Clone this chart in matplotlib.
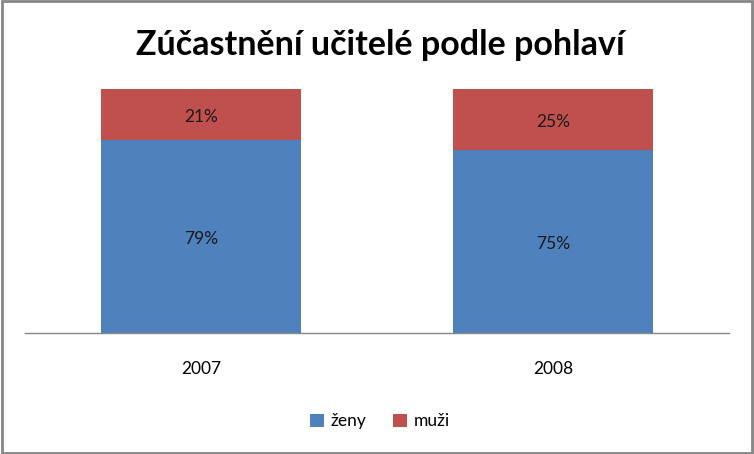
import matplotlib.pyplot as plt
import numpy as np

plt.rcParams['font.family'] = ['Lato', 'DejaVu Sans']

years = ['2007', '2008']
zeny = [0.79, 0.75]
muzi = [0.21, 0.25]
series_names = ['ženy', 'muži']
colors = ['#4F81BD', '#C0504D']

fig = plt.figure(figsize=(7.54, 4.54), dpi=100)
ax = fig.add_axes([25 / 754, (454 - 333) / 454, 704 / 754, 244 / 454])

x = np.arange(len(years))
b1 = ax.bar(x, zeny, width=0.57, color=colors[0], label=series_names[0])
b2 = ax.bar(x, muzi, width=0.57, bottom=zeny, color=colors[1], label=series_names[1])

for bars, vals, bottoms in [(b1, zeny, [0, 0]), (b2, muzi, zeny)]:
    for rect, v, b in zip(bars, vals, bottoms):
        ax.text(rect.get_x() + rect.get_width() / 2, b + v / 2 - 0.01, f'{v * 100:.0f}%',
                ha='center', va='center', fontsize=12.5, color='#1a1a1a')

ax.set_xlim(-0.5, 1.5)
ax.set_ylim(0, 1)
ax.set_yticks([])
ax.set_xticks(x)
ax.set_xticklabels(years, fontsize=12.5)
ax.tick_params(axis='x', length=0, pad=20)
for s in ['top', 'right', 'left']:
    ax.spines[s].set_visible(False)
ax.spines['bottom'].set_color('#868686')
ax.spines['bottom'].set_linewidth(1)

fig.text(0.504, 0.9, 'Zúčastnění učitelé podle pohlaví', ha='center', va='center',
         fontsize=24.5, fontweight='bold')

fig.legend(loc='center', bbox_to_anchor=(0.504, 0.072), ncol=2, frameon=False,
           fontsize=12.5, handlelength=0.8, handleheight=0.8, columnspacing=1.5,
           handletextpad=0.4)

border = plt.Rectangle((0.002, 0.003), 0.996, 0.994, transform=fig.transFigure,
                       fill=False, edgecolor='#868686', linewidth=2)
fig.patches.append(border)

fig.savefig('out.png', dpi=100)
